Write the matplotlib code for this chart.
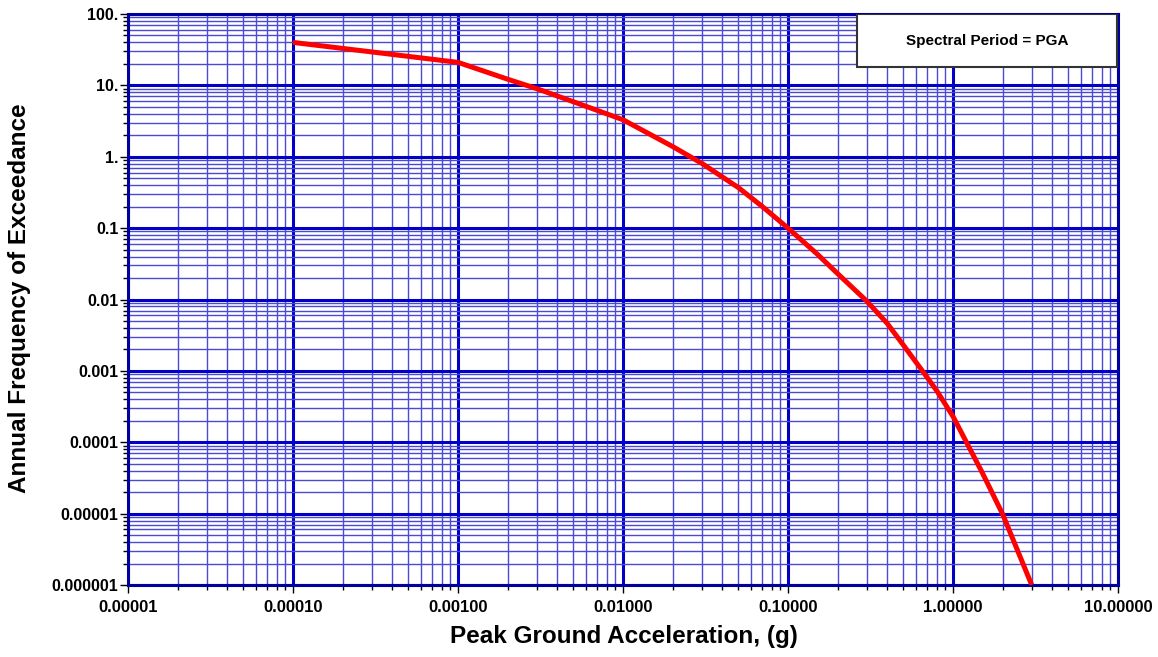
import matplotlib
matplotlib.use('Agg')
import matplotlib.pyplot as plt
from matplotlib.ticker import LogLocator, FixedLocator, FixedFormatter, NullFormatter
from matplotlib.patches import Rectangle

# hazard curve for PGA
pga = [0.0001, 0.001, 0.002, 0.003, 0.005, 0.01, 0.02, 0.03, 0.05, 0.07, 0.1, 0.15,
       0.2, 0.3, 0.4, 0.5, 0.6, 0.7, 0.8, 1.0, 1.5, 2.0, 3.0]
freq = [40, 21, 12.2, 9.0, 5.9, 3.3, 1.39, 0.81, 0.37, 0.2, 0.10, 0.0435,
        0.023, 0.0095, 0.0046, 0.0023, 0.0013, 0.0008, 0.00052, 0.00023, 3.8e-5, 9.8e-6, 1.0e-6]

x_ticks = [1e-5, 1e-4, 1e-3, 1e-2, 1e-1, 1, 10]
x_labels = ['0.00001', '0.00010', '0.00100', '0.01000', '0.10000', '1.00000', '10.00000']
y_ticks = [1e-6, 1e-5, 1e-4, 1e-3, 1e-2, 1e-1, 1, 10, 100]
y_labels = ['0.000001', '0.00001', '0.0001', '0.001', '0.01', '0.1', '1.', '10.', '100.']

plt.rcParams['font.family'] = ['Liberation Sans', 'DejaVu Sans']

fig = plt.figure(figsize=(11.58, 6.57), dpi=100)
ax = fig.add_axes([128/1158, 1-585/657, 990/1158, 571/657])

ax.set_xscale('log')
ax.set_yscale('log')
ax.set_xlim(1e-5, 10)
ax.set_ylim(1e-6, 100)

ax.xaxis.set_major_locator(FixedLocator(x_ticks))
ax.xaxis.set_major_formatter(FixedFormatter(x_labels))
ax.yaxis.set_major_locator(FixedLocator(y_ticks))
ax.yaxis.set_major_formatter(FixedFormatter(y_labels))
ax.xaxis.set_minor_locator(LogLocator(base=10, subs=range(2, 10), numticks=20))
ax.yaxis.set_minor_locator(LogLocator(base=10, subs=range(2, 10), numticks=20))
ax.xaxis.set_minor_formatter(NullFormatter())
ax.yaxis.set_minor_formatter(NullFormatter())

ax.grid(True, which='major', color='#0000c8', linewidth=2.2)
ax.grid(True, which='minor', color='#4a4ad6', linewidth=1.0)
ax.set_axisbelow(True)

for s in ax.spines.values():
    s.set_color('#0000a0')
    s.set_linewidth(2.2)

ax.tick_params(which='major', direction='out', length=6, width=1, color='black')
ax.tick_params(which='minor', direction='out', length=3.5, width=1, color='black')
ax.tick_params(axis='x', which='major', pad=5)
ax.tick_params(axis='y', which='major', pad=1)

for lab in ax.get_xticklabels():
    lab.set_fontweight('bold')
    lab.set_fontsize(12)
for lab in ax.get_yticklabels():
    lab.set_fontweight('bold')
    lab.set_fontsize(11.5)

ax.plot(pga, freq, color='red', linewidth=3.6, solid_capstyle='butt', clip_on=True, zorder=3)

# axis titles placed in figure coordinates
fig.text(624/1158, 1-637/657, 'Peak Ground Acceleration, (g)', fontsize=17.5,
         fontweight='bold', ha='center', va='center')
fig.text(20/1158, 1-298/657, 'Annual Frequency of Exceedance', fontsize=17.5,
         fontweight='bold', ha='center', va='center', rotation=90)

# label box in the upper right corner
box = Rectangle((0.736, 0.907), 0.263, 0.093, transform=ax.transAxes,
                facecolor='white', edgecolor='#333333', linewidth=1.5, zorder=5)
ax.add_patch(box)
ax.text(0.736 + 0.263/2, 0.907 + 0.093/2, 'Spectral Period = PGA', transform=ax.transAxes,
        ha='center', va='center', fontsize=11, fontweight='bold', zorder=6)

fig.savefig('out.png', dpi=100)
